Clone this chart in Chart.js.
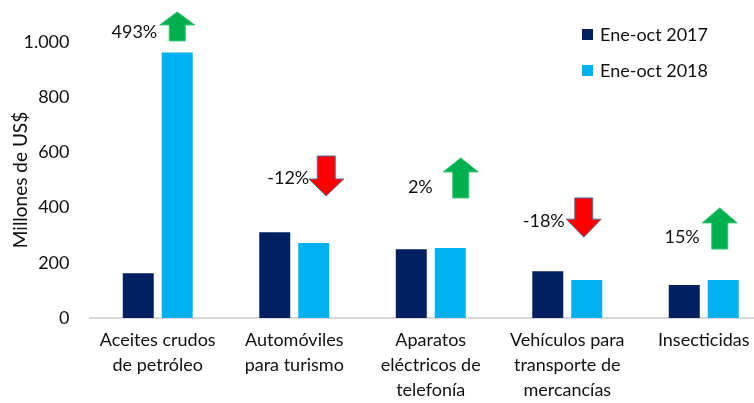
<!DOCTYPE html>
<html>
<head>
<meta charset="utf-8">
<script src="https://cdn.jsdelivr.net/npm/chart.js@4.4.0/dist/chart.umd.min.js"></script>
<style>
html,body{margin:0;padding:0;background:#fff;overflow:hidden;}
#wrap{position:absolute;left:0;top:0;width:772px;height:403px;}
</style>
</head>
<body>
<div id="wrap"><canvas id="c" width="772" height="403"></canvas></div>
<script>
// ---- data ----
const categories = [
  ['Aceites crudos', 'de petróleo'],
  ['Automóviles', 'para turismo'],
  ['Aparatos', 'eléctricos de', 'telefonía'],
  ['Vehículos para', 'transporte de', 'mercancías'],
  ['Insecticidas']
];
const values2017 = [162, 311, 249, 169, 120];
const values2018 = [962, 272, 254, 138, 138];
const seriesNames = ['Ene-oct 2017', 'Ene-oct 2018'];
const changeLabels = ['493%', '-12%', '2%', '-18%', '15%'];
const yTicks = [0, 200, 400, 600, 800, 1000];

// ---- annotation layout (arrow positions in data units / pixel offsets) ----
const arrowLayout = [
  {up: true,  tip: 1109, tail: 1004, dx: 19.5, headH: 13, labelY: 1036, labelDx: -20},
  {up: false, tip: 442,  tail: 587,  dx: 32,   headH: 17, labelY: 507,  labelDx: -17},
  {up: true,  tip: 580,  tail: 435,  dx: 30,   headH: 14, labelY: 475,  labelDx: -28},
  {up: false, tip: 293,  tail: 435,  dx: 16.5, headH: 18, labelY: 351,  labelDx: -19},
  {up: true,  tip: 399,  tail: 250,  dx: 16,   headH: 15, labelY: 293,  labelDx: -20}
];

const FONT = 'Lato, "Open Sans", sans-serif';
const colors = ['#002060', '#00B0F0'];

const annotPlugin = {
  id: 'annot',
  afterDatasetsDraw(chart) {
    const ctx = chart.ctx;
    const xs = chart.scales.x, ys = chart.scales.y;
    ctx.save();
    arrowLayout.forEach((a, i) => {
      const cx = xs.getPixelForValue(i) + a.dx;
      const tipY = ys.getPixelForValue(a.tip);
      const tailY = ys.getPixelForValue(a.tail);
      const sw = a.up ? 8 : 9, hw = 17.5;
      const dir = a.up ? 1 : -1;
      const baseY = tipY + dir * a.headH;
      ctx.beginPath();
      ctx.moveTo(cx, tipY);
      ctx.lineTo(cx + hw, baseY);
      ctx.lineTo(cx + sw, baseY);
      ctx.lineTo(cx + sw, tailY);
      ctx.lineTo(cx - sw, tailY);
      ctx.lineTo(cx - sw, baseY);
      ctx.lineTo(cx - hw, baseY);
      ctx.closePath();
      ctx.fillStyle = a.up ? '#00B050' : '#FF0000';
      ctx.fill();
      ctx.lineWidth = 1;
      ctx.strokeStyle = a.up ? '#2FC46A' : '#4F739B';
      ctx.stroke();
      ctx.fillStyle = '#111';
      ctx.font = '18px ' + FONT;
      ctx.textAlign = 'right';
      ctx.textBaseline = 'middle';
      ctx.fillText(changeLabels[i], cx + a.labelDx, ys.getPixelForValue(a.labelY));
    });
    // legend
    ctx.textAlign = 'left';
    ctx.textBaseline = 'middle';
    ctx.font = '18px ' + FONT;
    seriesNames.forEach((n, i) => {
      const y = 34.5 + i * 36;
      ctx.fillStyle = colors[i];
      ctx.fillRect(582, y - 5.5, 11, 11);
      ctx.fillStyle = '#111';
      ctx.fillText(n, 600, y + 1);
    });
    ctx.restore();
  }
};

new Chart(document.getElementById('c'), {
  type: 'bar',
  data: {
    labels: categories,
    datasets: [
      {label: seriesNames[0], data: values2017, backgroundColor: colors[0]},
      {label: seriesNames[1], data: values2018, backgroundColor: colors[1]}
    ]
  },
  options: {
    responsive: false,
    animation: false,
    events: [],
    categoryPercentage: 0.571,
    barPercentage: 0.795,
    layout: {padding: {top: 42, right: 0, left: 0, bottom: 0}},
    plugins: {legend: {display: false}, tooltip: {enabled: false}},
    scales: {
      x: {
        grid: {display: false, drawTicks: false},
        border: {display: true, color: '#D9D9D9', width: 2},
        ticks: {
          color: '#111', padding: 10, maxRotation: 0, autoSkip: false,
          font: {family: FONT, size: 18, lineHeight: 1.39}
        },
        afterFit(s) { s.height = 85; }
      },
      y: {
        min: 0, max: 1000,
        afterBuildTicks(s) { s.ticks = yTicks.map(v => ({value: v})); },
        grid: {display: false, drawTicks: false},
        border: {display: false},
        ticks: {
          color: '#111', padding: 20,
          font: {family: FONT, size: 18},
          callback: v => v.toLocaleString('de-DE')
        },
        title: {
          display: true, text: 'Millones de US$', color: '#111',
          font: {family: FONT, size: 19}, padding: {top: 9, bottom: 0}
        },
        afterFit(s) { s.width = 89.5; }
      }
    }
  },
  plugins: [annotPlugin]
});
</script>
</body>
</html>
